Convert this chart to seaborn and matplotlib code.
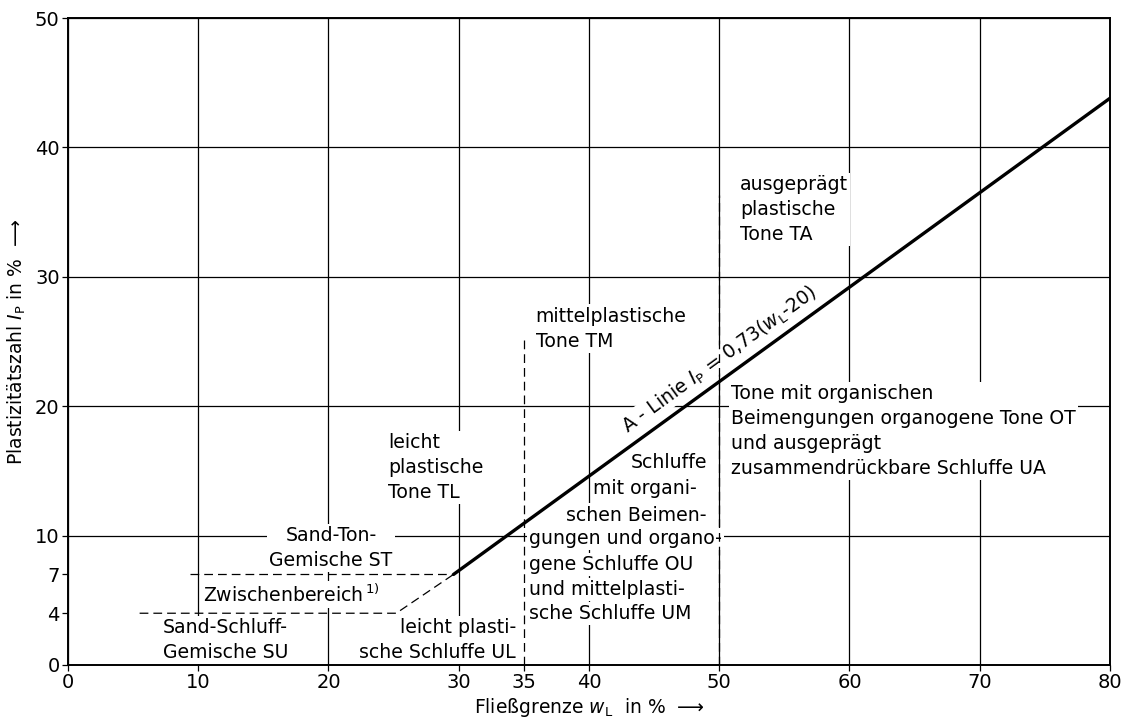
import matplotlib
matplotlib.use('Agg')
import matplotlib.pyplot as plt
import seaborn as sns
import pandas as pd

# Plasticity chart data (DIN 18196)
aline_wl = [29.6, 80.0]
aline_ip = [7.0, 43.8]

# dashed boundaries: (x list, y list)
dash_st_wl = [9.4, 29.6]
dash_st_ip = [7, 7]
dash_su_wl = [5.5, 25.2, 29.6]
dash_su_ip = [4, 4, 7]
dash_35_wl = [35, 35]
dash_35_ip = [0, 25.5]
dash_50_wl = [50, 50]
dash_50_ip = [0, 36.3]

xticks_major = [0, 10, 20, 30, 40, 50, 60, 70, 80]
xticks_minor = [35]
yticks_major = [0, 10, 20, 30, 40, 50]
yticks_minor = [4, 7]

# region labels: text, x, y, ha
labels = [
    ("ausgeprägt\nplastische\nTone TA", 51.6, 35.2, 'left'),
    ("mittelplastische\nTone TM", 35.9, 26.0, 'left'),
    ("Tone mit organischen\nBeimengungen organogene Tone OT\nund ausgeprägt\nzusammendrückbare Schluffe UA", 50.9, 18.1, 'left'),
    ("leicht\nplastische\nTone TL", 24.6, 15.25, 'left'),
    ("Sand-Ton-\nGemische ST", 20.2, 9.05, 'center'),
    ("Zwischenbereich$^{\\,1)}$", 10.4, 5.45, 'left'),
    ("Sand-Schluff-\nGemische SU", 7.3, 1.95, 'left'),
    ("leicht plasti-\nsche Schluffe UL", 34.4, 1.9, 'right'),
    ("Schluffe", 43.2, 15.66, 'left'),
    ("mit organi-", 40.3, 13.65, 'left'),
    ("schen Beimen-", 38.2, 11.59, 'left'),
    ("gungen und organo-", 35.4, 9.79, 'left'),
    ("gene Schluffe OU", 35.4, 7.75, 'left'),
    ("und mittelplasti-", 35.4, 5.84, 'left'),
    ("sche Schluffe UM", 35.4, 3.97, 'left'),
]

sns.set_theme(style='white')
plt.rcParams['font.family'] = ['DejaVu Sans']
plt.rcParams['mathtext.fontset'] = 'dejavusans'

fig = plt.figure(figsize=(11.22, 7.2), dpi=100)
ax = fig.add_axes([0.0606, 0.0764, 0.9287, 0.8986])

# A-line
sns.lineplot(x=aline_wl, y=aline_ip, ax=ax, color='black', linewidth=2.4,
             sort=False, estimator=None, zorder=5)

for xs, ys in [(dash_st_wl, dash_st_ip), (dash_su_wl, dash_su_ip),
               (dash_35_wl, dash_35_ip), (dash_50_wl, dash_50_ip)]:
    sns.lineplot(x=xs, y=ys, ax=ax, color='black', linewidth=0.9,
                 linestyle=(0, (7, 4)), sort=False, estimator=None, zorder=5)

ax.set_xlim(0, 80)
ax.set_ylim(0, 50)
ax.set_xticks(xticks_major)
ax.set_xticks(xticks_minor, minor=True)
ax.set_xticklabels([str(v) for v in xticks_minor], minor=True)
ax.set_yticks(yticks_major)
ax.set_yticks(yticks_minor, minor=True)
ax.set_yticklabels([str(v) for v in yticks_minor], minor=True)
ax.tick_params(which='both', direction='out', length=4, width=0.9,
               color='black', labelsize=14, labelcolor='black', pad=2,
               bottom=True, left=True)
ax.grid(True, which='major', color='black', linewidth=0.9)
ax.set_axisbelow(True)
for s in ax.spines.values():
    s.set_color('black')
    s.set_linewidth(1.4)

ax.set_xlabel("Fließgrenze $w_\\mathrm{L}$  in %  ⟶", fontsize=13.5, color='black', labelpad=3)
ax.set_ylabel("Plastizitätszahl $I_\\mathrm{P}$ in %  ⟶", fontsize=13.5, color='black', labelpad=5)

for txt, x, y, ha in labels:
    ax.text(x, y, txt, ha=ha, va='center', fontsize=13.6, color='black',
            linespacing=1.4, zorder=4,
            bbox=dict(facecolor='white', edgecolor='none', pad=1.5))

ax.text(50.0, 23.6, "A - Linie $I_\\mathrm{P}$ = 0,73($w_\\mathrm{L}$-20)",
        rotation=36, rotation_mode='anchor', ha='center', va='center',
        fontsize=13.6, color='black', zorder=4,
        bbox=dict(facecolor='white', edgecolor='none', pad=0.5))

fig.savefig('out.png', dpi=100)
